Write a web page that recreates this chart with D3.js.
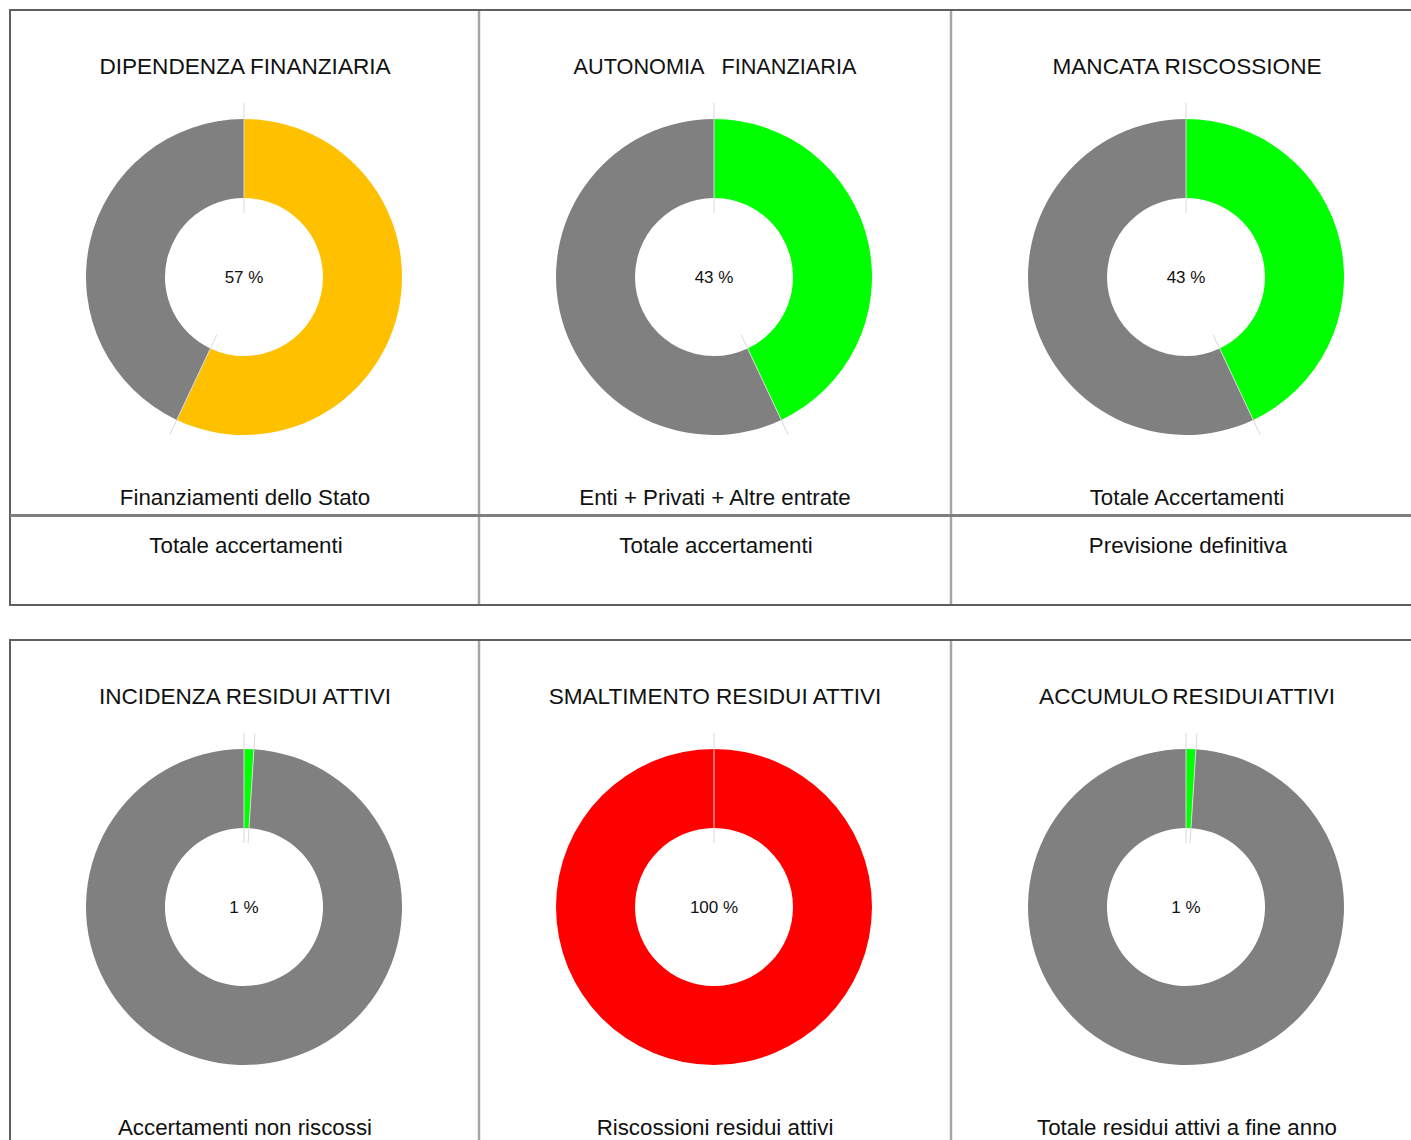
<!DOCTYPE html>
<html>
<head>
<meta charset="utf-8">
<script src="https://cdn.jsdelivr.net/npm/d3@7"></script>
<style>
  body { margin: 0; background: #fff; }
  svg { display: block; font-family: "Liberation Sans", Arial, sans-serif; }
  text { white-space: pre; }
</style>
</head>
<body>
<div class="chart"></div>
<script>
// indicatori, riga per riga
const titles = ["DIPENDENZA FINANZIARIA", "AUTONOMIA   FINANZIARIA", "MANCATA RISCOSSIONE",
                "INCIDENZA RESIDUI ATTIVI", "SMALTIMENTO RESIDUI ATTIVI", "ACCUMULO RESIDUI ATTIVI"]
const percents = [57, 43, 43, 1, 100, 1]
const colors = ["#ffc000", "#00ff00", "#00ff00", "#00ff00", "#ff0000", "#00ff00"]
const numerators = ["Finanziamenti dello Stato", "Enti + Privati + Altre entrate", "Totale Accertamenti",
                    "Accertamenti non riscossi", "Riscossioni residui attivi", "Totale residui attivi a fine anno"]
const denominators = ["Totale accertamenti", "Totale accertamenti", "Previsione definitiva"]

const W = 1411, H = 1140
const svg = d3.select(".chart").append("svg")
  .attr("width", W)
  .attr("height", H)

const colX = [10, 479, 951, 1423]
const centersX = [244, 714, 1186]
const rowTop = [10, 640]
const panelBottom = [605, 1160]

// cornici delle due tabelle
rowTop.forEach((top, r) => {
  const bottom = panelBottom[r]
  svg.append("rect")
    .attr("x", colX[0]).attr("y", top)
    .attr("width", colX[3] - colX[0]).attr("height", bottom - top)
    .attr("fill", "none")
    .attr("stroke", "#5f5f5f")
    .attr("stroke-width", 2)
  ;[colX[1], colX[2]].forEach(x => {
    svg.append("line")
      .attr("x1", x).attr("x2", x)
      .attr("y1", top + 1).attr("y2", bottom - 1)
      .attr("stroke", "#a6a6a6")
      .attr("stroke-width", 2.5)
  })
})
// separatore numeratore / denominatore
svg.append("line")
  .attr("x1", colX[0]).attr("x2", W)
  .attr("y1", 515.5).attr("y2", 515.5)
  .attr("stroke", "#7f7f7f")
  .attr("stroke-width", 3)

const outerR = 158, innerR = 79
const arc = d3.arc().innerRadius(innerR).outerRadius(outerR)
const pie = d3.pie().sort(null).value(d => d.value)

percents.forEach((p, i) => {
  const r = Math.floor(i / 3), c = i % 3
  const centerX = centersX[c]
  const cy = rowTop[r] + 267

  const g = svg.append("g").attr("transform", `translate(${centerX},${cy})`)
  const slices = pie([{ value: p, color: colors[i] }, { value: 100 - p, color: "#808080" }])

  g.selectAll("path")
    .data(slices.filter(d => d.value > 0))
    .join("path")
    .attr("d", arc)
    .attr("fill", d => d.data.color)

  // linee di confine delle fette
  const bounds = []
  slices.forEach(d => { if (d.value > 0) bounds.push(d.startAngle) })
  if (p > 0 && p < 100) bounds.push(slices[0].endAngle)
  Array.from(new Set(bounds)).forEach(a => {
    g.append("line")
      .attr("x1", Math.sin(a) * 64).attr("y1", -Math.cos(a) * 64)
      .attr("x2", Math.sin(a) * 174).attr("y2", -Math.cos(a) * 174)
      .attr("stroke", "#d9d9d9")
      .attr("stroke-width", 1)
  })

  g.append("text")
    .attr("y", 6)
    .attr("text-anchor", "middle")
    .style("font-size", "17px")
    .attr("fill", "#111")
    .text(p + " %")

  svg.append("text")
    .attr("x", centerX + 1)
    .attr("y", rowTop[r] + 64)
    .attr("text-anchor", "middle")
    .style("font-size", i === 1 ? "21.7px" : "22.6px")
    .style("word-spacing", i === 5 ? "-2.5px" : null)
    .attr("fill", "#111")
    .text(titles[i])

  svg.append("text")
    .attr("x", centerX + 1)
    .attr("y", rowTop[r] + 495)
    .attr("text-anchor", "middle")
    .style("font-size", "22.3px")
    .attr("fill", "#111")
    .text(numerators[i])

  if (r === 0) {
    svg.append("text")
      .attr("x", centerX + 2)
      .attr("y", 553)
      .attr("text-anchor", "middle")
      .style("font-size", "22.3px")
      .attr("fill", "#111")
      .text(denominators[c])
  }
})
</script>
</body>
</html>
